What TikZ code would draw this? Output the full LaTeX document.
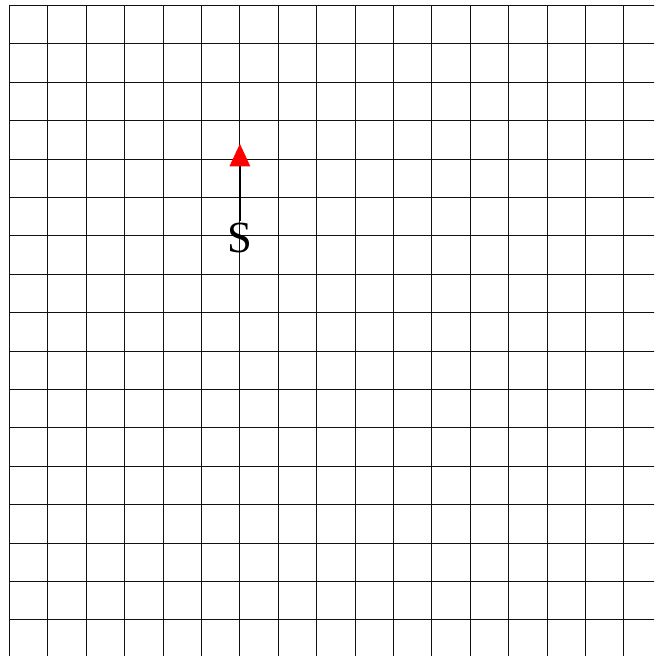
\documentclass[tikz,border=0pt]{standalone}
\usepackage{fontspec}
\setmainfont{Liberation Serif}
\usetikzlibrary{arrows.meta, positioning}
\definecolor{gdInk}{HTML}{111111}

\begin{document}
\begin{tikzpicture}[
    x=1cm, y=1cm,
    gridline/.style={draw=gdInk, line width=0.8pt},
    heading/.style={-{Triangle[length=5.9mm, width=5.3mm, color=red]}, line width=1.6pt, draw=black},
    start/.style={font=\fontsize{33}{33}\selectfont, inner sep=1pt, text=black},
  ]
  % page is 654 x 656 px, one cell = 38.4 px
  \useasboundingbox (-0.247,0.143) rectangle (16.784,-16.940);
  \clip (-0.247,0.143) rectangle (16.784,-16.940);
  \fill[white] (-0.247,0.143) rectangle (16.784,-16.940);
  \foreach \i in {0,...,17} {
    \draw[gridline] (\i,0) -- (\i,-17.5);
    \draw[gridline] (0,-\i) -- (17.5,-\i);
  }
  \node[start] (S) at (6,-6.05) {S};
  \coordinate (head) at (6,-3.6);
  \draw[heading] (S.north) -- (head);
\end{tikzpicture}
\end{document}
